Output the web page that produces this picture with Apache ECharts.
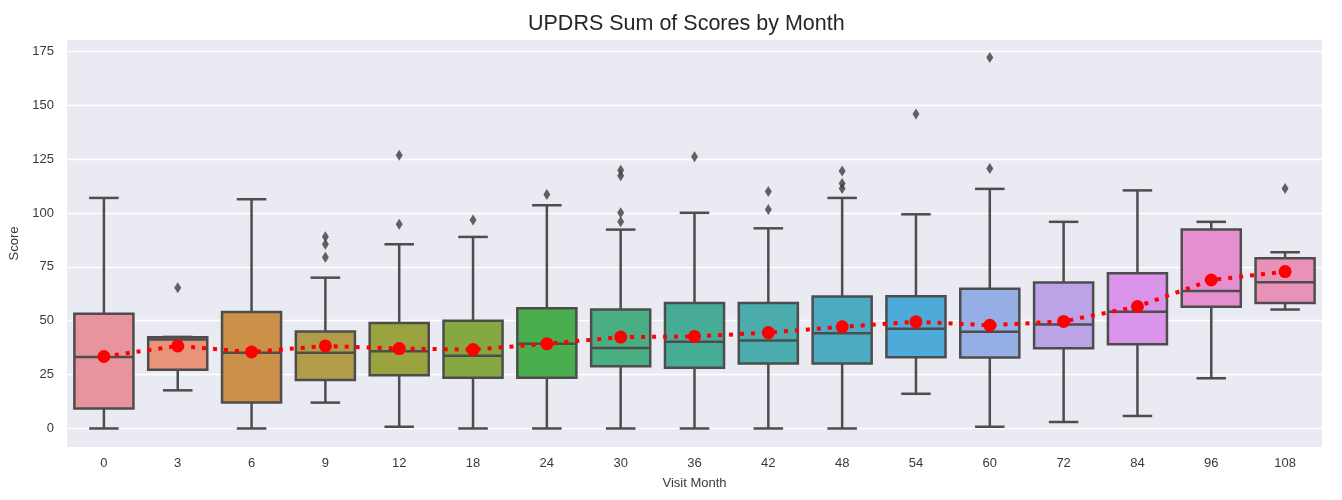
<!DOCTYPE html>
<html>
<head>
<meta charset="utf-8">
<script src="https://cdn.jsdelivr.net/npm/echarts@6/dist/echarts.min.js"></script>
<style>html,body{margin:0;padding:0;background:#fff}#c{width:1342px;height:500px}</style>
</head>
<body>
<div id="c"></div>
<script>
// ---- data ----
const months = ['0','3','6','9','12','18','24','30','36','42','48','54','60','72','84','96','108'];
const whiskerLow  = [0, 17.7, 0, 12.0, 0.8, 0, 0, 0, 0, 0, 0, 16.1, 0.8, 3.0, 5.8, 23.3, 55.2];
const q1          = [9.3, 27.3, 12.0, 22.5, 24.7, 23.5, 23.5, 28.9, 28.2, 30.1, 30.1, 33.0, 32.9, 37.2, 39.1, 56.5, 58.2];
const median      = [33.2, 41.3, 35.2, 35.1, 35.8, 33.7, 39.3, 37.4, 40.2, 40.8, 44.2, 46.3, 44.9, 48.3, 54.2, 63.8, 67.9];
const q3          = [53.2, 42.3, 54.0, 45.0, 49.0, 50.0, 55.8, 55.2, 58.2, 58.2, 61.3, 61.4, 64.9, 67.8, 72.0, 92.3, 79.0];
const whiskerHigh = [107.0, 42.5, 106.4, 70.0, 85.5, 88.9, 103.6, 92.3, 100.1, 92.9, 107.0, 99.4, 111.2, 95.9, 110.5, 95.9, 81.8];
const means       = [33.4, 38.3, 35.5, 38.3, 37.1, 36.6, 39.3, 42.4, 42.7, 44.5, 47.2, 49.5, 47.9, 49.7, 56.6, 68.9, 72.8];
// outliers: [month index, score]
const outliers = [
  [1, 65.3],
  [3, 89.0], [3, 85.5], [3, 79.5],
  [4, 126.8], [4, 94.8],
  [5, 96.8],
  [6, 108.6],
  [7, 119.9], [7, 117.3], [7, 100.1], [7, 95.9],
  [8, 126.1],
  [9, 110.0], [9, 101.6],
  [10, 119.5], [10, 113.7], [10, 111.4],
  [11, 146.0],
  [12, 172.2], [12, 120.7],
  [16, 111.4]
];
const yTicks = [0, 25, 50, 75, 100, 125, 150, 175];

// ---- styles ----
const boxColors = ['#e8949e','#e8937a','#cc9148','#b39c49','#9ba240','#85a842','#4aae4f','#4aae83',
                   '#47ac96','#4aacac','#4aabc3','#4eaad8','#95aee6','#bca3e8','#d993e8','#e68fd0','#e892b8'];
const edge = '#4d4d4d';
const txt = '#3a3a3a';

const boxData = months.map((m, i) => [i, whiskerLow[i], q1[i], median[i], q3[i], whiskerHigh[i]]);

const chart = echarts.init(document.getElementById('c'));
chart.setOption({
  animation: false,
  backgroundColor: '#ffffff',
  title: {
    text: 'UPDRS Sum of Scores by Month',
    left: 523, top: 8,
    textStyle: {fontFamily: 'Liberation Sans', fontSize: 21.5, fontWeight: 'normal', color: '#262626'}
  },
  grid: {left: 67, right: 20, top: 40, bottom: 53, show: true, backgroundColor: '#eaeaf2', borderWidth: 0},
  xAxis: {
    type: 'category', data: months,
    name: 'Visit Month', nameLocation: 'middle', nameGap: 30,
    nameTextStyle: {fontFamily: 'Liberation Sans', fontSize: 13, color: txt},
    axisLine: {show: false}, axisTick: {show: false},
    axisLabel: {fontFamily: 'Liberation Sans', fontSize: 13, color: txt, margin: 10},
    splitLine: {show: false}
  },
  yAxis: {
    type: 'value', min: -8.6, max: 180.3,
    name: 'Score', nameLocation: 'middle', nameGap: 46, nameRotate: 90,
    nameTextStyle: {fontFamily: 'Liberation Sans', fontSize: 13, color: txt},
    axisLine: {show: false},
    axisTick: {show: false, customValues: yTicks},
    axisLabel: {fontFamily: 'Liberation Sans', fontSize: 13, color: txt, margin: 13, customValues: yTicks},
    splitLine: {show: true, lineStyle: {color: '#ffffff', width: 1.3}}
  },
  series: [
    {
      type: 'custom',
      data: boxData,
      encode: {x: 0, y: [1, 2, 3, 4, 5]},
      z: 2,
      renderItem: function (params, api) {
        const i = api.value(0);
        const band = api.size([1, 0])[0];
        const bw = band * 0.8, cw = band * 0.4;
        const pLow = api.coord([i, api.value(1)]);
        const pQ1 = api.coord([i, api.value(2)]);
        const pMed = api.coord([i, api.value(3)]);
        const pQ3 = api.coord([i, api.value(4)]);
        const pHigh = api.coord([i, api.value(5)]);
        const x = pQ1[0];
        const ls = {stroke: edge, lineWidth: 2.5, fill: null};
        return {
          type: 'group',
          children: [
            {type: 'line', shape: {x1: x, y1: pQ1[1], x2: x, y2: pLow[1]}, style: ls},
            {type: 'line', shape: {x1: x, y1: pQ3[1], x2: x, y2: pHigh[1]}, style: ls},
            {type: 'line', shape: {x1: x - cw / 2, y1: pLow[1], x2: x + cw / 2, y2: pLow[1]}, style: ls},
            {type: 'line', shape: {x1: x - cw / 2, y1: pHigh[1], x2: x + cw / 2, y2: pHigh[1]}, style: ls},
            {type: 'rect', shape: {x: x - bw / 2, y: pQ3[1], width: bw, height: pQ1[1] - pQ3[1]},
             style: {fill: boxColors[i], stroke: edge, lineWidth: 2.5}},
            {type: 'line', shape: {x1: x - bw / 2, y1: pMed[1], x2: x + bw / 2, y2: pMed[1]}, style: ls}
          ]
        };
      }
    },
    {
      type: 'scatter',
      data: outliers,
      symbol: 'diamond', symbolSize: [7, 11],
      itemStyle: {color: '#3d3d3d'},
      z: 3
    },
    {
      type: 'line',
      data: means,
      symbol: 'circle', symbolSize: 13, showSymbol: true,
      itemStyle: {color: '#ff0000'},
      lineStyle: {color: '#ff0000', width: 4, type: [4, 7]},
      z: 5
    }
  ]
});
</script>
</body>
</html>
